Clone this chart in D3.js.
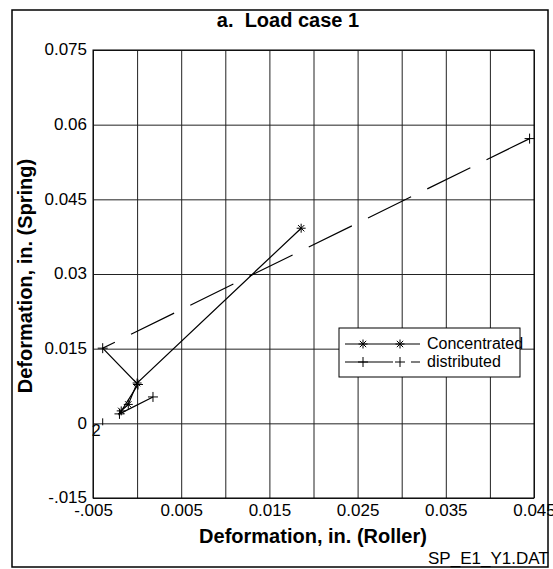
<!DOCTYPE html>
<html>
<head>
<meta charset="utf-8">
<script src="https://cdn.jsdelivr.net/npm/d3@7/dist/d3.min.js"></script>
<style>
  html, body { margin: 0; padding: 0; background: #fff; }
  svg { display: block; font-family: "Liberation Sans", Arial, sans-serif; }
</style>
</head>
<body>
<svg id="chart" width="553" height="569"></svg>
<script>
// Deformation measured on the roller side (x) vs the spring side (y), load case 1
const concentratedX = [-0.0018, -0.0010, 0.0000, 0.0186];
const concentratedY = [0.0025, 0.0038, 0.0081, 0.0392];

const distributedX = [0.0445, -0.0039, 0.0001, -0.0020, 0.0018];
const distributedY = [0.0572, 0.0151, 0.0078, 0.0019, 0.0053];

// Point tagged with a number label
const labelX = [-0.0039];
const labelY = [0.0002];
const labelText = ["2"];

const xGridValues = [-0.005, 0.0, 0.005, 0.01, 0.015, 0.02, 0.025, 0.03, 0.035, 0.04, 0.045];
const xTickValues = [-0.005, 0.005, 0.015, 0.025, 0.035, 0.045];
const xTickLabels = ["-.005", "0.005", "0.015", "0.025", "0.035", "0.045"];
const yTickValues = [-0.015, 0, 0.015, 0.03, 0.045, 0.06, 0.075];
const yTickLabels = ["-.015", "0", "0.015", "0.03", "0.045", "0.06", "0.075"];

const seriesNames = ["Concentrated", "distributed"];

const svg = d3.select("#chart");
const plot = { left: 93, right: 534, top: 50, bottom: 498 };
const pw = plot.right - plot.left, ph = plot.bottom - plot.top;

const x = d3.scaleLinear().domain([-0.005, 0.045]).range([plot.left, plot.right]);
const y = d3.scaleLinear().domain([-0.015, 0.075]).range([plot.bottom, plot.top]);

// outer frame
svg.append("rect")
  .attr("x", 12).attr("y", 10).attr("width", 536).attr("height", 557)
  .attr("fill", "none").attr("stroke", "#000").attr("stroke-width", 1.5);

// title
svg.append("text")
  .attr("x", 288).attr("y", 27)
  .attr("text-anchor", "middle")
  .attr("font-size", 20).attr("font-weight", "bold")
  .attr("xml:space", "preserve")
  .text("a.  Load case 1");

// x axis with full-height grid lines
const xAxis = d3.axisBottom(x)
  .tickValues(xGridValues)
  .tickSize(-ph)
  .tickPadding(6)
  .tickFormat(d => {
    const i = xTickValues.findIndex(v => Math.abs(v - d) < 1e-9);
    return i >= 0 ? xTickLabels[i] : "";
  });

const gx = svg.append("g")
  .attr("transform", `translate(0,${plot.bottom})`)
  .call(xAxis);
gx.select(".domain").remove();
gx.selectAll(".tick line").attr("stroke", "#222").attr("stroke-width", 1);
gx.selectAll(".tick text")
  .attr("font-size", 17).attr("fill", "#000")
  .attr("font-family", "Liberation Sans, Arial, sans-serif");

// y axis with full-width grid lines
const yAxis = d3.axisLeft(y)
  .tickValues(yTickValues)
  .tickSize(-pw)
  .tickPadding(6)
  .tickFormat((d, i) => yTickLabels[i]);

const gy = svg.append("g")
  .attr("transform", `translate(${plot.left},0)`)
  .call(yAxis);
gy.select(".domain").remove();
gy.selectAll(".tick line").attr("stroke", "#222").attr("stroke-width", 1);
gy.selectAll(".tick text")
  .attr("font-size", 17).attr("fill", "#000").attr("dy", "0.28em")
  .attr("font-family", "Liberation Sans, Arial, sans-serif");

// plot frame
svg.append("rect")
  .attr("x", plot.left).attr("y", plot.top).attr("width", pw).attr("height", ph)
  .attr("fill", "none").attr("stroke", "#000").attr("stroke-width", 1);

// axis titles
svg.append("text")
  .attr("x", 313).attr("y", 543)
  .attr("text-anchor", "middle")
  .attr("font-size", 20).attr("font-weight", "bold")
  .text("Deformation, in. (Roller)");

svg.append("text")
  .attr("transform", "translate(32,276) rotate(-90)")
  .attr("text-anchor", "middle")
  .attr("font-size", 20).attr("font-weight", "bold")
  .text("Deformation, in. (Spring)");

// file name tag
svg.append("text")
  .attr("x", 428).attr("y", 564)
  .attr("font-size", 17)
  .text("SP_E1_Y1.DAT");

// marker shapes
const starPath = r => {
  const d = r * 0.707;
  return `M0,${-r}V${r}M${-r},0H${r}M${-d},${-d}L${d},${d}M${-d},${d}L${d},${-d}`;
};
const plusPath = r => `M0,${-r}V${r}M${-r},0H${r}`;

const line = d3.line().x(d => x(d[0])).y(d => y(d[1]));

const concentrated = concentratedX.map((v, i) => [v, concentratedY[i]]);
const distributed = distributedX.map((v, i) => [v, distributedY[i]]);
const labelled = labelX.map((v, i) => [v, labelY[i], labelText[i]]);

const DASH = [48, 18];

// long dashes along the first (long) leg, the short legs near the origin stay solid
const firstLeg = Math.hypot(x(distributed[1][0]) - x(distributed[0][0]),
                            y(distributed[1][1]) - y(distributed[0][1]));
const nDash = Math.floor(firstLeg / (DASH[0] + DASH[1]));
const distDash = d3.range(nDash).flatMap(() => DASH).concat([4000, 0]).join(",");

// distributed: long-dash line with plus markers
svg.append("path")
  .datum(distributed)
  .attr("d", line)
  .attr("fill", "none").attr("stroke", "#000").attr("stroke-width", 1.2)
  .attr("stroke-dasharray", distDash);
svg.append("g").selectAll("path")
  .data(distributed).join("path")
  .attr("transform", d => `translate(${x(d[0])},${y(d[1])})`)
  .attr("d", plusPath(5))
  .attr("fill", "none").attr("stroke", "#000").attr("stroke-width", 1);

// concentrated: solid line with star markers
svg.append("path")
  .datum(concentrated)
  .attr("d", line)
  .attr("fill", "none").attr("stroke", "#000").attr("stroke-width", 1.2);
svg.append("g").selectAll("path")
  .data(concentrated).join("path")
  .attr("transform", d => `translate(${x(d[0])},${y(d[1])})`)
  .attr("d", starPath(4.5))
  .attr("fill", "none").attr("stroke", "#000").attr("stroke-width", 1);

// numbered point
const lab = svg.append("g").selectAll("g")
  .data(labelled).join("g")
  .attr("transform", d => `translate(${x(d[0])},${y(d[1])})`);
lab.append("path").attr("d", "M0,-4V3").attr("stroke", "#000").attr("stroke-width", 1);
lab.append("text")
  .attr("x", -11).attr("y", 14)
  .attr("font-size", 16)
  .text(d => d[2]);

// legend
const lg = svg.append("g");
lg.append("rect")
  .attr("x", 339).attr("y", 328).attr("width", 181).attr("height", 49)
  .attr("fill", "#fff").attr("stroke", "#000").attr("stroke-width", 1);

const legendRows = [
  { name: seriesNames[0], ly: 344, ty: 349, dash: null, marker: starPath(4.5) },
  { name: seriesNames[1], ly: 362, ty: 367, dash: DASH.join(","), marker: plusPath(5) }
];
legendRows.forEach(r => {
  lg.append("line")
    .attr("x1", 345).attr("x2", 420).attr("y1", r.ly).attr("y2", r.ly)
    .attr("stroke", "#000").attr("stroke-width", 1.2)
    .attr("stroke-dasharray", r.dash);
  [363, 400].forEach(mx => {
    lg.append("path")
      .attr("transform", `translate(${mx},${r.ly})`)
      .attr("d", r.marker)
      .attr("fill", "none").attr("stroke", "#000").attr("stroke-width", 1);
  });
  lg.append("text")
    .attr("x", 427).attr("y", r.ty)
    .attr("font-size", 16)
    .text(r.name);
});
</script>
</body>
</html>
